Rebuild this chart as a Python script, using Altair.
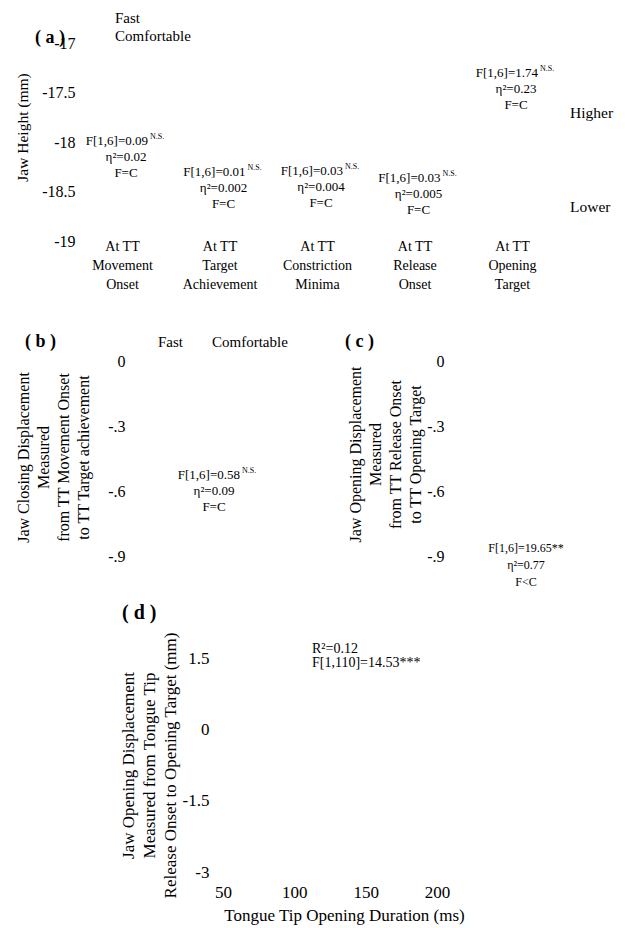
import altair as alt
import pandas as pd

SERIF = "Liberation Serif"

# ---- (a) jaw height at five tongue-tip landmarks ----
landmarks = ["Movement Onset", "Target Achievement", "Constriction Minima",
             "Release Onset", "Opening Target"]
a_fstat = ["F[1,6]=0.09", "F[1,6]=0.01", "F[1,6]=0.03", "F[1,6]=0.03", "F[1,6]=1.74"]
a_sig = ["N.S.", "N.S.", "N.S.", "N.S.", "N.S."]
a_eta = ["η²=0.02", "η²=0.002", "η²=0.004", "η²=0.005", "η²=0.23"]
a_effect = ["F=C", "F=C", "F=C", "F=C", "F=C"]
a_label_y = [-17.99, -18.30, -18.29, -18.36, -17.30]
a_ticks = [-19, -18.5, -18, -17.5, -17]

rates = ["Fast", "Comfortable"]

# ---- (b) jaw closing displacement, (c) jaw opening displacement ----
b_stats = ["F[1,6]=0.58", "N.S.", "η²=0.09", "F=C"]
b_label_y = -0.526
c_stats = ["F[1,6]=19.65**", "η²=0.77", "F<C"]
c_label_y = -0.863
bc_ticks = [-0.9, -0.6, -0.3, 0]

# ---- (d) regression of jaw opening on tongue-tip opening duration ----
d_stats = ["R²=0.12", "F[1,110]=14.53***"]
d_label_x, d_label_y = 112.4, 1.69
d_xticks = [50, 100, 150, 200]
d_yticks = [-3, -1.5, 0, 1.5]

W, H = 625, 928

NUM = "datum.value < 0 ? '-' + format(-datum.value, '~g') : format(datum.value, '~g')"
DEC = ("datum.value < 0 ? '-' + replace(format(-datum.value, '~g'), '0.', '.')"
       " : format(datum.value, '~g')")


def note(text, x, y, size=15, bold=False, align="left"):
    return alt.Chart(alt.Data(values=[{}])).mark_text(
        text=text, fontSize=size, fontWeight="bold" if bold else "normal",
        align=align, baseline="middle",
    ).encode(x=alt.value(x), y=alt.value(y))


def y_axis(values, expr, title, left, tx, ty, size=16, title_size=16, line_h=20):
    # left-oriented axis whose labels end at pixel column `left`;
    # tx places the first title line, further lines stack to its right
    return alt.Axis(orient="left", offset=-left, values=values, labelExpr=expr,
                    domain=False, ticks=False, tickSize=0, grid=False,
                    labelFontSize=size, labelPadding=0, title=title,
                    titleFontSize=title_size, titleFontWeight="normal", titleAngle=270,
                    titleAlign="center", titleBaseline="middle", titleX=tx, titleY=ty,
                    titleLineHeight=line_h)


# ---- panel (a) ----
df_a = pd.DataFrame({"landmark": landmarks, "fstat": a_fstat, "sig": a_sig,
                     "eta": a_eta, "effect": a_effect, "label_y": a_label_y})
base_a = alt.Chart(df_a).encode(
    x=alt.X("landmark:N", sort=landmarks,
            scale=alt.Scale(type="point", padding=0, range=[122, 512]),
            axis=alt.Axis(orient="bottom", offset=239 - H, title=None, domain=False,
                          ticks=False, tickSize=0, grid=False, labelAngle=0,
                          labelFontSize=14, labelLineHeight=19, labelPadding=0,
                          labelOverlap=False,
                          labelExpr="['At TT', split(datum.label, ' ')[0], split(datum.label, ' ')[1]]")),
    y=alt.Y("label_y:Q", scale=alt.Scale(domain=[-19, -17], range=[241, 43.5],
                                         nice=False, zero=False),
            axis=y_axis(a_ticks, NUM, "Jaw Height (mm)", 75, -53, 127, title_size=15.5)),
)
panel_a = alt.layer(
    base_a.mark_text(align="right", baseline="middle", dx=26, fontSize=13).encode(text="fstat:N"),
    base_a.mark_text(align="left", baseline="middle", dx=28, dy=-4, fontSize=8).encode(text="sig:N"),
    base_a.mark_text(align="center", baseline="middle", dx=4, dy=16, fontSize=13).encode(text="eta:N"),
    base_a.mark_text(align="center", baseline="middle", dx=4, dy=32, fontSize=13).encode(text="effect:N"),
)

# ---- panels (b) and (c) ----
df_b = pd.DataFrame({"label_y": [b_label_y], "fstat": [b_stats[0]], "sig": [b_stats[1]],
                     "eta": [b_stats[2]], "effect": [b_stats[3]]})
base_b = alt.Chart(df_b).encode(
    x=alt.value(214),
    y=alt.Y("label_y:Q", scale=alt.Scale(domain=[-0.9, 0], range=[556, 361],
                                         nice=False, zero=False),
            axis=y_axis(bc_ticks, DEC,
                        ["Jaw Closing Displacement", "Measured",
                         "from TT Movement Onset", "to TT Target achievement"],
                        125, -102, 457)),
)
panel_b = alt.layer(
    base_b.mark_text(align="right", baseline="middle", dx=26, fontSize=13).encode(text="fstat:N"),
    base_b.mark_text(align="left", baseline="middle", dx=28, dy=-4, fontSize=8).encode(text="sig:N"),
    base_b.mark_text(align="center", baseline="middle", dy=16, fontSize=13).encode(text="eta:N"),
    base_b.mark_text(align="center", baseline="middle", dy=32, fontSize=13).encode(text="effect:N"),
)

df_c = pd.DataFrame({"label_y": [c_label_y], "fstat": [c_stats[0]],
                     "eta": [c_stats[1]], "effect": [c_stats[2]]})
base_c = alt.Chart(df_c).encode(
    x=alt.value(526),
    y=alt.Y("label_y:Q", scale=alt.Scale(domain=[-0.9, 0], range=[556, 361],
                                         nice=False, zero=False),
            axis=y_axis(bc_ticks, DEC,
                        ["Jaw Opening Displacement", "Measured",
                         "from TT Release Onset", "to TT Opening Target"],
                        444, -89, 454)),
)
panel_c = alt.layer(
    base_c.mark_text(align="center", baseline="middle", fontSize=12).encode(text="fstat:N"),
    base_c.mark_text(align="center", baseline="middle", dy=17, fontSize=12).encode(text="eta:N"),
    base_c.mark_text(align="center", baseline="middle", dy=34, fontSize=12).encode(text="effect:N"),
)

# ---- panel (d) ----
df_d = pd.DataFrame({"duration": [d_label_x], "jaw_open": [d_label_y],
                     "r2": [d_stats[0]], "fstat": [d_stats[1]]})
base_d = alt.Chart(df_d).encode(
    x=alt.X("duration:Q", scale=alt.Scale(domain=[50, 200], range=[223, 437],
                                          nice=False, zero=False),
            axis=alt.Axis(orient="bottom", offset=884 - H, values=d_xticks, labelExpr=NUM,
                          domain=False, ticks=False, tickSize=0, grid=False,
                          labelFontSize=17, labelPadding=0, labelFlush=False,
                          title="Tongue Tip Opening Duration (ms)", titleFontSize=17,
                          titleFontWeight="normal", titleBaseline="middle",
                          titleX=344, titleY=31)),
    y=alt.Y("jaw_open:Q", scale=alt.Scale(domain=[-3, 1.5], range=[872, 658],
                                          nice=False, zero=False),
            axis=y_axis(d_yticks, NUM,
                        ["Jaw Opening Displacement", "Measured from Tongue Tip",
                         "Release Onset to Opening Target (mm)"],
                        209, -81, 765, size=17, title_size=17, line_h=21)),
)
panel_d = alt.layer(
    base_d.mark_text(align="left", baseline="middle", fontSize=14).encode(text="r2:N"),
    base_d.mark_text(align="left", baseline="middle", dy=14, fontSize=14).encode(text="fstat:N"),
)

# ---- panel tags, legend entries and direction labels ----
notes = alt.layer(
    note("( a )", 35, 38, size=18, bold=True),
    note(rates[0], 115, 18),
    note(rates[1], 115, 36),
    note("Higher", 570, 113, size=15.5),
    note("Lower", 570, 207, size=15.5),
    note("( b )", 25, 342, size=18, bold=True),
    note(rates[0], 158, 342),
    note(rates[1], 212, 342),
    note("( c )", 345, 342, size=18, bold=True),
    note("( d )", 122, 613, size=20, bold=True),
)

chart = alt.layer(panel_a, panel_b, panel_c, panel_d, notes).resolve_scale(
    x="independent", y="independent"
).properties(
    width=W, height=H, padding=0, autosize=alt.AutoSizeParams(type="none"),
).configure(background="white").configure_view(
    stroke="transparent", strokeWidth=0
).configure_axis(
    labelFont=SERIF, titleFont=SERIF, labelColor="black", titleColor="black",
).configure_text(font=SERIF, color="black")

chart.save("out.html", embed_options={"renderer": "svg", "actions": False})
